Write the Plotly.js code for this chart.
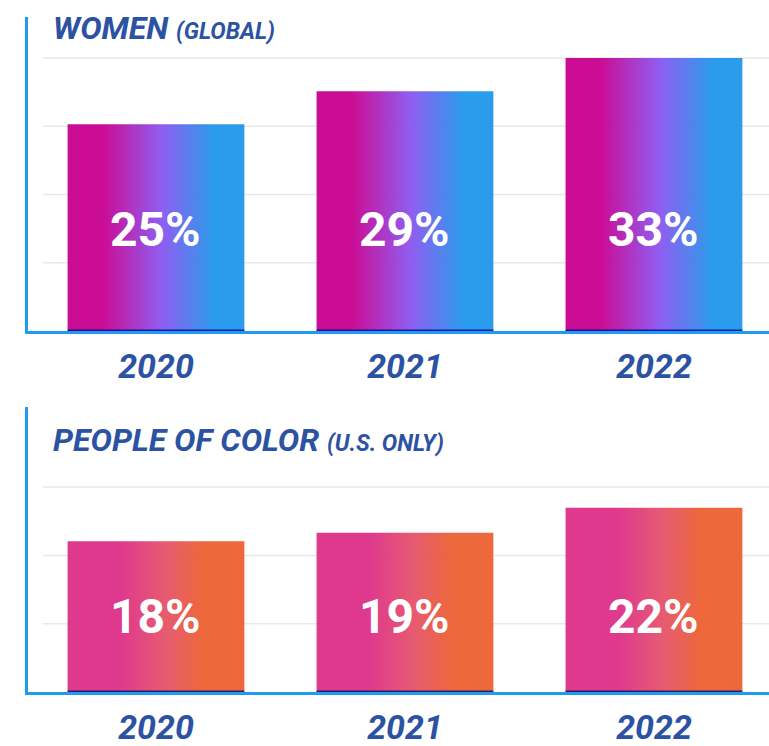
<!DOCTYPE html>
<html>
<head>
<meta charset="utf-8">
<script src="https://cdn.plot.ly/plotly-3.0.1.min.js"></script>
<style>html,body{margin:0;padding:0;background:#fff;}</style>
</head>
<body>
<div id="chart" style="width:769px;height:746px;"></div>
<script>
// ---- data ----
const years = ['2020', '2021', '2022'];
const womenPct = [25, 29, 33];
const pocPct = [18, 19, 22];
const womenTitle = 'WOMEN';
const womenSub = '(GLOBAL)';
const pocTitle = 'PEOPLE OF COLOR';
const pocSub = '(U.S. ONLY)';
const womenGrid = [8.25, 16.5, 24.75, 33];
const pocGrid = [8.15, 16.3, 24.45];

// ---- styles ----
const FONT = 'Roboto, "DejaVu Sans Condensed", sans-serif';
const BLUE = '#2b52a3';
const AXIS = '#1f9bef';
const GRID = '#e9e9e9';
const HALF = 0.355;
const womenScale = [[0, '#c8008f'], [0.2, '#c8008f'], [0.53, '#8a55f0'], [0.83, '#2096ea'], [1, '#2096ea']];
const pocScale = [[0, '#dd2f88'], [0.3, '#dd2f88'], [0.55, '#e5526a'], [0.77, '#ec6030'], [1, '#ec6030']];

function barTraces(vals, xa, ya, scale) {
  return vals.map((v, i) => ({
    type: 'scatter', mode: 'none', xaxis: xa, yaxis: ya,
    x: [i - HALF, i + HALF, i + HALF, i - HALF, i - HALF],
    y: [0, 0, v, v, 0],
    fill: 'toself',
    fillgradient: {type: 'horizontal', colorscale: scale},
    opacity: 0.95,
    hoverinfo: 'skip'
  }));
}

const data = [
  ...barTraces(womenPct, 'x', 'y', womenScale),
  ...barTraces(pocPct, 'x2', 'y2', pocScale)
];

const shapes = [];
womenGrid.forEach(g => shapes.push({type: 'line', xref: 'paper', yref: 'y', x0: 0.056, x1: 1, y0: g, y1: g, line: {color: GRID, width: 1.5}, layer: 'below'}));
pocGrid.forEach(g => shapes.push({type: 'line', xref: 'paper', yref: 'y2', x0: 0.056, x1: 1, y0: g, y1: g, line: {color: GRID, width: 1.5}, layer: 'below'}));
womenPct.forEach((v, i) => shapes.push({type: 'line', xref: 'x', yref: 'y', x0: i - HALF, x1: i + HALF, y0: 0, y1: 0, line: {color: 'rgba(12,10,150,0.85)', width: 3}, layer: 'above'}));
pocPct.forEach((v, i) => shapes.push({type: 'line', xref: 'x2', yref: 'y2', x0: i - HALF, x1: i + HALF, y0: 0, y1: 0, line: {color: 'rgba(20,28,100,0.9)', width: 3}, layer: 'above'}));

const annotations = [];
const titleFont = {family: FONT, size: 32, color: BLUE, weight: 'bold', style: 'italic'};
annotations.push({xref: 'paper', yref: 'paper', x: 51 / 769, y: (746 - 28) / 746, xanchor: 'left', yanchor: 'middle', showarrow: false,
  text: womenTitle + ' <span style="font-size:23px">' + womenSub + '</span>', font: titleFont});
annotations.push({xref: 'paper', yref: 'paper', x: 51 / 769, y: (746 - 440) / 746, xanchor: 'left', yanchor: 'middle', showarrow: false,
  text: pocTitle + ' <span style="font-size:23px">' + pocSub + '</span>', font: titleFont});
const labFont = {family: FONT, size: 48, color: '#ffffff', weight: 'bold'};
womenPct.forEach((v, i) => annotations.push({xref: 'x', yref: 'y', x: i, y: 12.3, showarrow: false, text: v + '%', font: labFont}));
pocPct.forEach((v, i) => annotations.push({xref: 'x2', yref: 'y2', x: i, y: 9, showarrow: false, text: v + '%', font: labFont}));

function xAxis(anchor) {
  return {
    domain: [28 / 769, 1], range: [-0.514, 2.462], anchor: anchor,
    tickvals: [0, 1, 2], ticktext: years,
    showline: true, linecolor: AXIS, linewidth: 3, showgrid: false, zeroline: false,
    ticks: 'outside', ticklen: 3, tickcolor: 'rgba(0,0,0,0)',
    tickfont: {family: FONT, size: 34, color: BLUE, weight: 'bold', style: 'italic'},
    fixedrange: true
  };
}
function yAxis(anchor, domain, range) {
  return {
    domain: domain, range: range, anchor: anchor,
    showline: true, linecolor: AXIS, linewidth: 3, showgrid: false, zeroline: false,
    showticklabels: false, ticks: '', fixedrange: true
  };
}

const layout = {
  width: 769, height: 746,
  margin: {l: 0, r: 0, t: 0, b: 0},
  paper_bgcolor: '#ffffff', plot_bgcolor: '#ffffff',
  showlegend: false,
  xaxis: xAxis('y'),
  yaxis: yAxis('x', [(746 - 331) / 746, (746 - 17) / 746], [0, 314 / 8.27]),
  xaxis2: xAxis('y2'),
  yaxis2: yAxis('x2', [(746 - 692) / 746, (746 - 407) / 746], [0, 285 / 8.38]),
  shapes: shapes,
  annotations: annotations
};

Plotly.newPlot('chart', data, layout, {displayModeBar: false, staticPlot: true});
</script>
</body>
</html>
